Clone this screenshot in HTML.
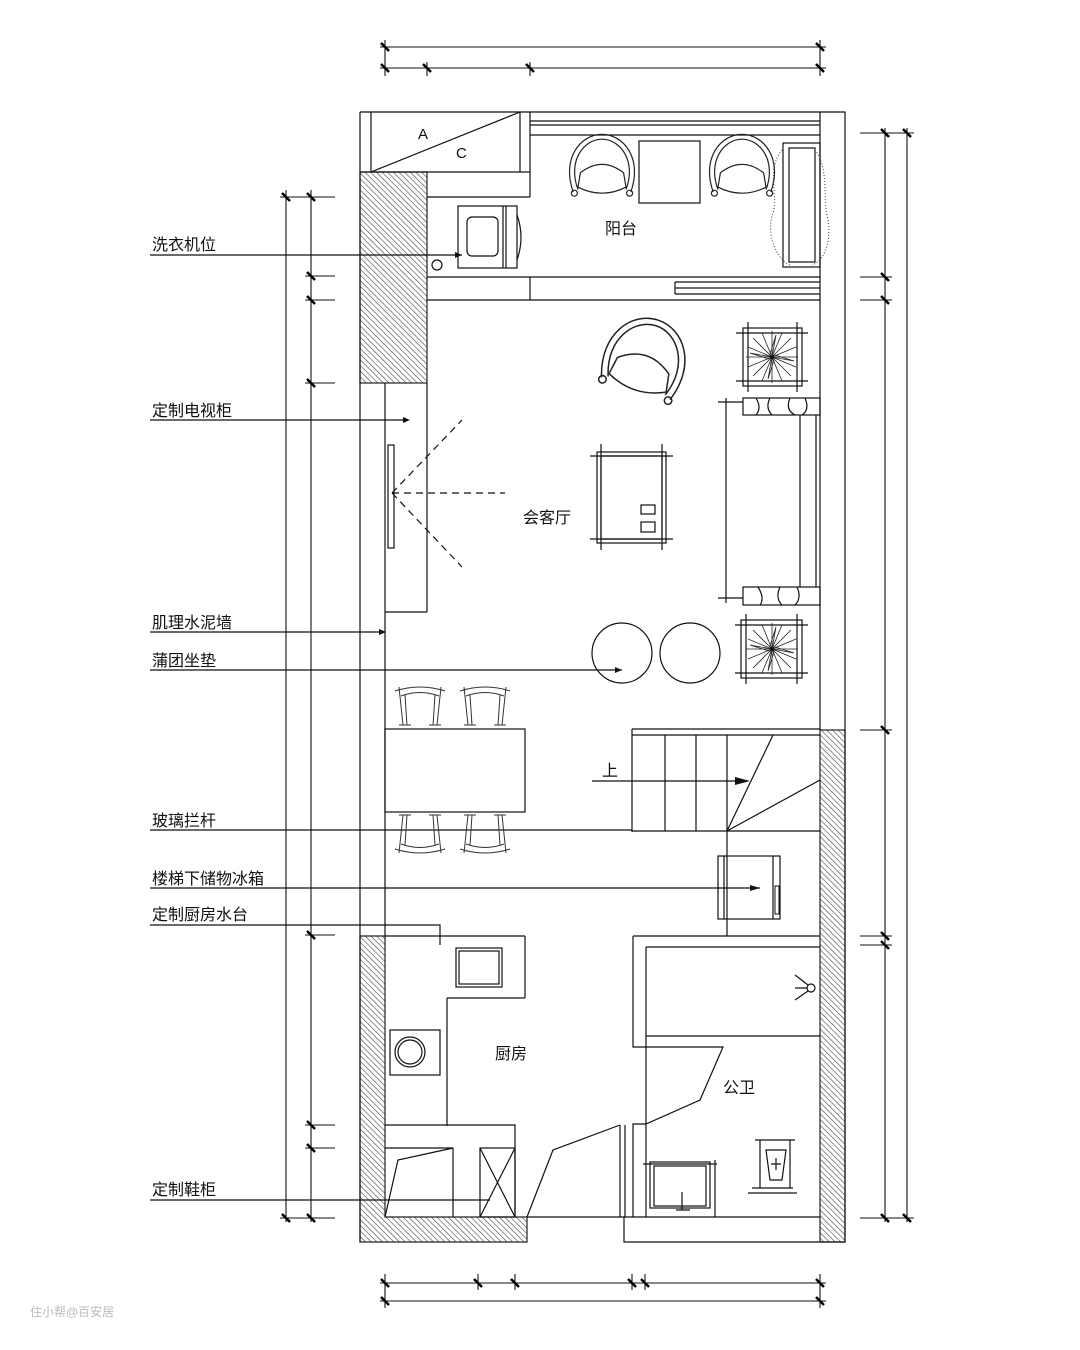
<!DOCTYPE html>
<html><head><meta charset="utf-8"><style>
html,body{margin:0;padding:0;background:#fff}
svg{display:block}
text{font-family:"Liberation Sans","Noto Sans CJK SC",sans-serif;fill:#111}
</style></head><body>
<svg width="1080" height="1350" viewBox="0 0 1080 1350" xmlns="http://www.w3.org/2000/svg">
<defs>
<pattern id="h" width="4" height="4" patternUnits="userSpaceOnUse" patternTransform="rotate(-45)">
<rect width="4" height="4" fill="#fff"/><line x1="0" y1="0" x2="0" y2="4" stroke="#444" stroke-width="1.2"/>
</pattern>
<g id="chair" fill="none" stroke="#222" stroke-width="1">
<path d="M-24,20 C-34,-8 -18,-28 0,-28 C18,-28 34,-8 24,20"/>
<path d="M-20,18 C-29,-6 -15,-24 0,-24 C15,-24 29,-6 20,18"/>
<path d="M-18,4 Q0,-10 18,4 L20,16 Q0,26 -20,16 Z"/>
<circle cx="-23" cy="21" r="2.5"/><circle cx="23" cy="21" r="2.5"/>
</g>
<g id="dchair" fill="none" stroke="#333" stroke-width="1">
<path d="M-25,-36 Q0,-44 25,-36"/><path d="M-19,-31 Q0,-38 19,-31"/>
<path d="M-21,-40 L-17,-2 M-15,-32 L-13,-2 M21,-40 L17,-2 M15,-32 L13,-2"/>
<path d="M-21,-2 L-9,-2 M9,-2 L21,-2"/>
</g>
<g id="plant" fill="none" stroke="#222" stroke-width="0.8">
<path d="M0,0 L-26,0 M0,0 L26,0 M0,0 L0,-26 M0,0 L0,26 M0,0 L-19,-19 M0,0 L19,19 M0,0 L19,-19 M0,0 L-19,19 M0,0 L-24,-10 M0,0 L24,10 M0,0 L-10,-24 M0,0 L10,24 M0,0 L24,-10 M0,0 L-24,10 M0,0 L10,-24 M0,0 L-10,24"/>
<path d="M0,0 L-22,-4 L-3,2 M0,0 L22,4 L3,-2 M0,0 L-4,22 L2,3 M0,0 L4,-22 L-2,-3"/>
<circle r="2" fill="#111"/>
</g>
</defs>
<g fill="none" stroke="#111" stroke-width="1.1">
<line x1="380" y1="47" x2="826" y2="47"/><line x1="380" y1="68" x2="826" y2="68"/>
<path d="M385,40 V76 M427,62 V76 M530,62 V76 M820,40 V76"/>
<line x1="380" y1="1283" x2="826" y2="1283"/><line x1="380" y1="1301" x2="826" y2="1301"/>
<path d="M385,1274 V1308 M478,1274 V1290 M515,1274 V1290 M632,1274 V1290 M645,1274 V1290 M820,1274 V1308"/>
<line x1="286" y1="190" x2="286" y2="1222"/><line x1="311" y1="190" x2="311" y2="1222"/>
<path d="M280,197 H335 M305,276 H335 M305,300 H335 M305,383 H335 M305,935 H335 M305,1125 H335 M305,1148 H335 M280,1218 H335"/>
<line x1="885" y1="128" x2="885" y2="1222"/><line x1="907" y1="128" x2="907" y2="1222"/>
<path d="M860,133 H914 M860,277 H892 M860,300 H892 M860,730 H892 M860,936 H892 M860,945 H892 M860,1218 H914"/>
</g>
<g stroke="#000" stroke-width="2.5">
<path d="M381,64 l8,8 M423,64 l8,8 M526,64 l8,8 M816,64 l8,8 M381,43 l8,8 M816,43 l8,8"/>
<path d="M381,1279 l8,8 M474,1279 l8,8 M511,1279 l8,8 M628,1279 l8,8 M641,1279 l8,8 M816,1279 l8,8 M381,1297 l8,8 M816,1297 l8,8"/>
<path d="M282,193 l8,8 M307,193 l8,8 M307,272 l8,8 M307,296 l8,8 M307,379 l8,8 M307,931 l8,8 M307,1121 l8,8 M307,1144 l8,8 M282,1214 l8,8 M307,1214 l8,8"/>
<path d="M881,129 l8,8 M903,129 l8,8 M881,273 l8,8 M881,296 l8,8 M881,726 l8,8 M881,932 l8,8 M881,941 l8,8 M881,1214 l8,8 M903,1214 l8,8"/>
</g>
<g stroke="#222" stroke-width="1.2" fill="url(#h)">
<rect x="360" y="172" width="67" height="211"/>
<path d="M360,936 H385 V1217 H527 V1242 H360 Z"/>
<rect x="820" y="730" width="25" height="512"/>
</g>
<g fill="none" stroke="#111" stroke-width="1.2">
<path d="M360,112 H845 V1242 H624 V1217"/>
<line x1="360" y1="112" x2="360" y2="1242"/>
<line x1="820" y1="112" x2="820" y2="730"/>
<path d="M371,112 V172 M520,112 V172 M371,172 L520,112 M360,172 H530 M530,112 V197 M427,197 H530"/>
<path d="M530,121 H820 M530,125 H820 M530,135 H820"/>
<path d="M427,277 H820 M427,300 H820 M530,277 V300 M675,282 H820 M675,288 H820 M675,294 H820 M675,282 V294"/>
<rect x="458" y="206" width="59" height="62"/>
<rect x="467" y="217" width="31" height="39" rx="5"/>
<path d="M503,206 V268 M506,206 V268 M517,215 Q525,237 517,260"/>
<circle cx="437" cy="265" r="5"/>
<rect x="639" y="141" width="61" height="62"/>
<rect x="783" y="143" width="37" height="124"/>
<rect x="789" y="148" width="26" height="114"/>
<path d="M782,150 C765,170 780,200 772,215 C766,240 780,262 790,265" stroke-dasharray="1 2" stroke="#555"/>
<path d="M815,150 C830,170 822,200 828,220 C832,245 822,262 812,265" stroke-dasharray="1 2" stroke="#555"/>
<path d="M385,383 V936 M427,383 V612 M385,612 H427"/>
<rect x="388" y="445" width="6" height="103"/>
<path d="M392,493 L462,420 M392,493 L462,567 M392,493 H505" stroke-dasharray="7 5"/>
<rect x="743" y="328" width="59" height="58"/>
<path d="M736,333 H808 M736,381 H808 M748,322 V392 M797,322 V392"/>
<rect x="741" y="620" width="61" height="58"/>
<path d="M735,625 H808 M735,673 H808 M746,614 V684 M797,614 V684"/>
<path d="M726,398 V603 M718,402 H743 M718,598 H743"/>
<rect x="743" y="398" width="77" height="17"/>
<rect x="743" y="587" width="77" height="18"/>
<path d="M800,415 V587 M816,415 V587"/>
<path d="M756,398 Q762,408 756,415 M770,398 Q765,408 772,415 M790,398 Q785,410 795,415 M805,398 Q810,410 802,415 M758,587 Q765,598 760,605 M780,587 Q775,598 782,605 M797,587 Q802,598 795,605"/>
<rect x="597" y="452" width="69" height="91"/>
<rect x="601" y="456" width="61" height="83"/>
<path d="M590,456 H673 M590,539 H673 M601,444 V550 M662,444 V550"/>
<rect x="641" y="505" width="14" height="9"/><rect x="641" y="522" width="14" height="10"/>
<circle cx="622" cy="653" r="30"/><circle cx="690" cy="653" r="30"/>
<rect x="385" y="729" width="140" height="83"/>
<path d="M632,729 H820 M632,735 H820 M632,729 V832 M632,831 H820 M665,735 V831 M696,735 V831 M727,735 V936 M727,831 L773,735 M727,831 L820,780"/>
<path d="M592,781 H745"/>
<path d="M150,255 H462 M150,420 H408 M150,632 H385 M150,670 H622 M150,830 H632 M150,888 H760 M150,925 H440 V945 M150,1200 H490"/>
<rect x="718" y="856" width="62" height="63"/>
<path d="M724,856 V919 M773,856 V919"/>
<path d="M385,936 H525 M525,936 V998 M447,998 H525 M447,998 V1126"/>
<rect x="456" y="948" width="46" height="39"/><rect x="459" y="951" width="40" height="33"/>
<rect x="390" y="1030" width="50" height="45"/>
<circle cx="410" cy="1052" r="15"/><circle cx="410" cy="1052" r="12"/>
<path d="M385,1125 H515 V1217 M385,1148 H453 V1217 M385,1217 L398,1160 L453,1148"/>
<rect x="480" y="1148" width="35" height="69"/>
<path d="M480,1148 L515,1217 M515,1148 L480,1217"/>
<path d="M527,1217 L553,1150 L620,1125"/>
<path d="M620,1125 V1217 M625,1125 V1217 M527,1217 H820"/>
<path d="M633,936 H820 M633,936 V1047 H646 M646,947 H820 M646,947 V1217 M646,1036 H820 M646,1047 H723 L700,1100 L646,1124 H633 V1217"/>
<circle cx="811" cy="988" r="4"/>
<path d="M795,988 H807 M795,975 L808,985 M795,1000 L808,991"/>
<rect x="650" y="1162" width="60" height="46"/><rect x="654" y="1166" width="52" height="40"/>
<path d="M643,1164 H717 M715,1160 V1217 M682,1192 V1210 M676,1210 H690"/>
<path d="M755,1140 H795 M760,1140 V1188 M790,1140 V1188 M748,1193 H797 M752,1188 H793 M766,1150 H786 L782,1180 H770 Z M776,1158 V1170 M771,1164 H781"/>
</g>
<g fill="#111">
<path d="M750,781 L735,777 L735,785 Z"/>
<path d="M760,888 L750,885 L750,891 Z"/>
<path d="M462,255 L455,252 L455,258 Z"/>
<path d="M410,420 L403,417 L403,423 Z"/>
<path d="M386,632 L379,629 L379,635 Z"/>
<path d="M622,670 L615,667 L615,673 Z"/>
</g>
<rect x="775" y="886" width="4" height="28" fill="none" stroke="#111" stroke-width="1"/>
<use href="#chair" transform="translate(602,168) scale(1.2)"/>
<use href="#chair" transform="translate(742,168) scale(1.2)"/>
<use href="#chair" transform="translate(645,360) rotate(18) scale(1.5)"/>
<use href="#dchair" transform="translate(420,727)"/>
<use href="#dchair" transform="translate(485,727)"/>
<use href="#dchair" transform="translate(420,813) scale(1,-1)"/>
<use href="#dchair" transform="translate(485,813) scale(1,-1)"/>
<use href="#plant" transform="translate(772,357)"/>
<use href="#plant" transform="translate(772,649)"/>
<g font-size="16">
<text x="418" y="139" font-size="15">A</text><text x="456" y="158" font-size="15">C</text>
<text x="605" y="234">阳台</text>
<text x="523" y="523">会客厅</text>
<text x="602" y="776">上</text>
<text x="495" y="1059">厨房</text>
<text x="723" y="1093">公卫</text>
<text x="152" y="250">洗衣机位</text>
<text x="152" y="416">定制电视柜</text>
<text x="152" y="628">肌理水泥墙</text>
<text x="152" y="666">蒲团坐垫</text>
<text x="152" y="826">玻璃拦杆</text>
<text x="152" y="884">楼梯下储物冰箱</text>
<text x="152" y="920">定制厨房水台</text>
<text x="152" y="1195">定制鞋柜</text>
</g>
<text x="30" y="1316" font-size="12" style="fill:#bbb">住小帮@百安居</text>
</svg>
</body></html>
